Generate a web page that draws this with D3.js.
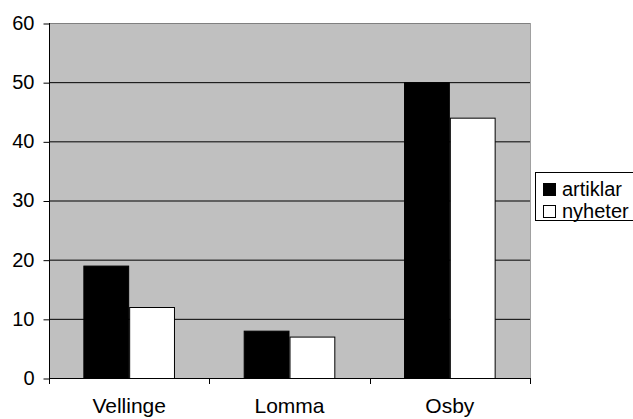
<!DOCTYPE html>
<html><head><meta charset="utf-8">
<script src="https://cdn.jsdelivr.net/npm/d3@7"></script>
<style>body{margin:0;background:#fff}svg{display:block}text{font-family:"Liberation Sans",Arial,sans-serif}</style>
</head><body>
<svg id="c" width="633" height="419"></svg>
<script>
const categories = ["Vellinge", "Lomma", "Osby"];
const seriesNames = ["artiklar", "nyheter"];
const artiklar = [19, 8, 50];
const nyheter = [12, 7, 44];
const yTicks = [0, 10, 20, 30, 40, 50, 60];

const svg = d3.select("#c");
const L = 49, R = 530, T = 23, B = 378;
const x = d3.scaleBand().domain(categories).range([L, R]).paddingInner(0).paddingOuter(0);
const y = d3.scaleLinear().domain([0, 60]).range([B, T]);
const bw = x.bandwidth() / 3.5;
const colors = ["#000", "#fff"];
const series = [artiklar, nyheter];

svg.append("rect").attr("x", L).attr("y", T).attr("width", R - L).attr("height", B - T).attr("fill", "#c0c0c0");
svg.append("g").selectAll("line").data(yTicks.filter(d => d > 0 && d < 60)).join("line")
  .attr("x1", L).attr("x2", R).attr("y1", d => y(d) + 0.5).attr("y2", d => y(d) + 0.5)
  .attr("stroke", "#000").attr("stroke-width", 1);
svg.append("line").attr("x1", L).attr("x2", R).attr("y1", T + 0.5).attr("y2", T + 0.5).attr("stroke", "#808080");
svg.append("line").attr("x1", R + 0.5).attr("x2", R + 0.5).attr("y1", T).attr("y2", B).attr("stroke", "#a0a0a0");

series.forEach((s, i) => {
  svg.append("g").selectAll("rect").data(s).join("rect")
    .attr("x", (d, j) => x(categories[j]) + bw * 0.75 + i * bw + 0.5)
    .attr("y", d => y(d) + 0.5)
    .attr("width", bw - 1)
    .attr("height", d => B - y(d))
    .attr("fill", colors[i]).attr("stroke", "#000").attr("stroke-width", 1);
});

const ya = svg.append("g").attr("transform", `translate(${L + 0.5},0)`)
  .call(d3.axisLeft(y).tickValues(yTicks).tickSize(6).tickPadding(9));
ya.select(".domain").attr("d", `M0,${T}V${B + 6}`).attr("stroke", "#000");
ya.selectAll(".tick line").attr("stroke", "#000").attr("transform", "translate(0,0.5)");
ya.selectAll("text").attr("font-size", 20).attr("fill", "#000").attr("font-family", "Liberation Sans, Arial, sans-serif");

const xa = svg.append("g").attr("transform", `translate(0,${B + 0.5})`)
  .call(d3.axisBottom(x).tickSize(0).tickPadding(20));
xa.select(".domain").attr("d", `M${L},0H${R}`).attr("stroke", "#000");
xa.selectAll("text").attr("font-size", 21).attr("fill", "#000").attr("font-family", "Liberation Sans, Arial, sans-serif");
const xt = categories.map(c => x(c)).concat([R]);
svg.append("g").selectAll("line").data(xt).join("line")
  .attr("x1", d => Math.round(d) + 0.5).attr("x2", d => Math.round(d) + 0.5)
  .attr("y1", B).attr("y2", B + 6).attr("stroke", "#000");

const lg = svg.append("g");
lg.append("rect").attr("x", 535.5).attr("y", 172.5).attr("width", 100).attr("height", 48).attr("fill", "#fff").attr("stroke", "#000");
seriesNames.forEach((n, i) => {
  const cy = 189 + i * 22;
  lg.append("rect").attr("x", 543.5).attr("y", cy - 5.5).attr("width", 12).attr("height", 12)
    .attr("fill", colors[i]).attr("stroke", "#000");
  lg.append("text").attr("x", 562).attr("y", cy + 7).attr("font-size", 20).attr("fill", "#000").text(n);
});
</script>
</body></html>
